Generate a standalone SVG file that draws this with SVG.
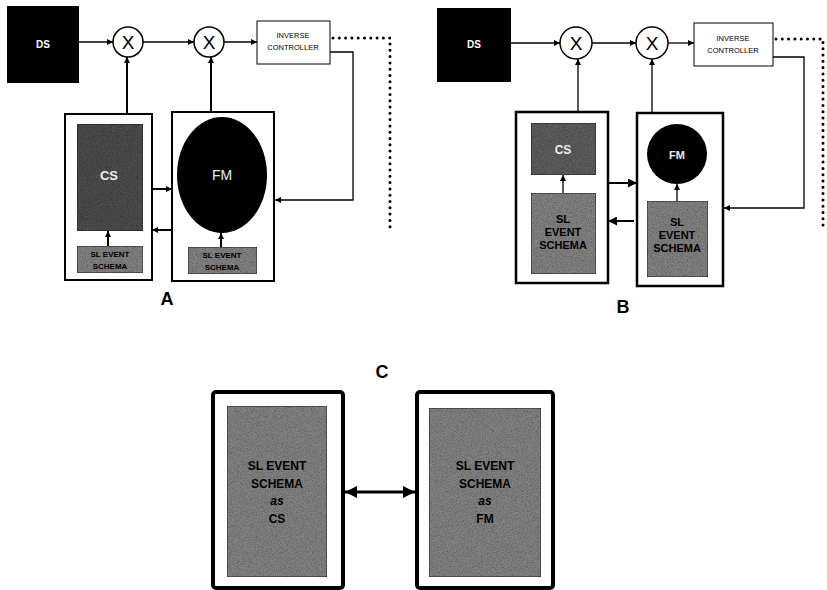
<svg xmlns="http://www.w3.org/2000/svg" width="827" height="590" viewBox="0 0 827 590">
  <defs>
    <marker id="ah" viewBox="0 0 10 10" refX="10" refY="5" markerWidth="6" markerHeight="6" orient="auto" markerUnits="userSpaceOnUse">
      <path d="M0,0 L10,5 L0,10 z" fill="#000"/>
    </marker>
    <marker id="ahm" viewBox="0 0 10 10" refX="10" refY="5" markerWidth="9" markerHeight="9" orient="auto" markerUnits="userSpaceOnUse">
      <path d="M0,0 L10,5 L0,10 z" fill="#000"/>
    </marker>
    <marker id="ahb" viewBox="0 0 10 10" refX="10" refY="5" markerWidth="12" markerHeight="12" orient="auto-start-reverse" markerUnits="userSpaceOnUse">
      <path d="M0,0 L10,5 L0,10 z" fill="#000"/>
    </marker>
    <!-- speckled print texture for the grey panels -->
    <filter id="grain" x="0" y="0" width="1" height="1">
      <feTurbulence type="fractalNoise" baseFrequency="1.2" numOctaves="1" seed="3" result="n"/>
      <feColorMatrix in="n" type="matrix" values="0 0 0 0 0  0 0 0 0 0  0 0 0 0 0  0 0 0 1.2 -0.45" result="d"/>
      <feComposite in="d" in2="SourceGraphic" operator="in" result="dm"/>
      <feMerge><feMergeNode in="SourceGraphic"/><feMergeNode in="dm"/></feMerge>
    </filter>
  </defs>
  <style>
    text { font-family: "Liberation Sans", Arial, sans-serif; text-anchor: middle; }
    .ds { fill: #000; }
    .dst { fill: #fff; font-weight: bold; font-size: 10px; }
    .mul { fill: #fff; stroke: #000; stroke-width: 1.5; }
    .x { font-size: 19px; fill: #000; }
    .ic { fill: #fff; stroke: #000; stroke-width: 1; }
    .ict { font-size: 7.5px; fill: #000; }
    .outer { fill: #fff; stroke: #000; stroke-width: 2; }
    .outerB { fill: #fff; stroke: #000; stroke-width: 2.5; }
    .outerC { fill: #fff; stroke: #000; stroke-width: 4; }
    .dark { fill: #4e4e4e; stroke: #222; stroke-width: 1; filter: url(#grain); }
    .mid { fill: #838383; stroke: #222; stroke-width: 1; filter: url(#grain); }
    .lab { font-size: 8px; font-weight: bold; fill: #000; }
    .labB { font-size: 11px; font-weight: bold; fill: #000; }
    .labC { font-size: 12px; font-weight: bold; fill: #000; }
    .wt { fill: #eee; font-weight: bold; }
    .big { font-size: 18px; font-weight: bold; fill: #000; }
    .ln { fill: none; stroke: #000; stroke-width: 1.3; }
    .lnT { fill: none; stroke: #000; stroke-width: 2; }
    .lnK { fill: none; stroke: #000; stroke-width: 3; }
    .dot { fill: none; stroke: #000; stroke-width: 3; stroke-dasharray: 0 6.3; stroke-linecap: round; }
  </style>

  <!-- ===== Panel A ===== -->
  <g id="a-ds"><rect class="ds" x="7" y="6" width="72" height="77"/><text class="dst" x="43" y="48">DS</text></g>
  <g id="a-mul1"><circle class="mul" cx="128" cy="42" r="15"/><text class="x" x="128" y="49">X</text></g>
  <g id="a-mul2"><circle class="mul" cx="209" cy="42" r="15"/><text class="x" x="209" y="49">X</text></g>
  <g id="a-ic"><rect class="ic" x="257" y="21" width="73" height="43"/><text class="ict" x="293" y="38">INVERSE</text><text class="ict" x="293" y="50">CONTROLLER</text></g>
  <g id="a-cs-unit">
    <rect class="outer" x="65" y="114" width="87" height="166"/>
    <rect class="dark" x="77" y="124" width="66" height="107"/>
    <text class="wt" x="109" y="180" font-size="13">CS</text>
    <rect class="mid" x="77" y="246" width="66" height="27"/>
    <text class="lab" x="110" y="257">SL EVENT</text><text class="lab" x="110" y="269">SCHEMA</text>
  </g>
  <g id="a-fm-unit">
    <rect class="outer" x="172" y="112" width="102" height="169"/>
    <ellipse cx="222" cy="175" rx="45" ry="58" fill="#000"/>
    <text x="222" y="180" font-size="14" fill="#eee">FM</text>
    <rect class="mid" x="188" y="247" width="69" height="27"/>
    <text class="lab" x="222" y="258">SL EVENT</text><text class="lab" x="222" y="270">SCHEMA</text>
  </g>
  <g id="a-label"><text class="big" x="167" y="305">A</text></g>

  <!-- ===== Panel B ===== -->
  <g id="b-ds"><rect class="ds" x="437" y="8" width="74" height="74"/><text class="dst" x="474" y="48">DS</text></g>
  <g id="b-mul1"><circle class="mul" cx="576" cy="43" r="16"/><text class="x" x="576" y="50">X</text></g>
  <g id="b-mul2"><circle class="mul" cx="652" cy="43" r="16"/><text class="x" x="652" y="50">X</text></g>
  <g id="b-ic"><rect class="ic" x="694" y="23" width="79" height="43"/><text class="ict" x="733" y="41">INVERSE</text><text class="ict" x="733" y="53">CONTROLLER</text></g>
  <g id="b-cs-unit">
    <rect class="outerB" x="516" y="112" width="92" height="171"/>
    <rect class="dark" x="531" y="123" width="65" height="52" style="fill:#5e5e5e"/>
    <text class="wt" x="563" y="154" font-size="12">CS</text>
    <rect class="mid" x="531" y="193" width="65" height="81"/>
    <text class="labB" x="563" y="223">SL</text><text class="labB" x="563" y="236">EVENT</text><text class="labB" x="563" y="249">SCHEMA</text>
  </g>
  <g id="b-fm-unit">
    <rect class="outerB" x="637" y="113" width="86" height="173"/>
    <circle cx="677" cy="154" r="30" fill="#000"/>
    <text x="677" y="159" font-size="11" class="wt">FM</text>
    <rect class="mid" x="647" y="201" width="61" height="76"/>
    <text class="labB" x="677" y="226">SL</text><text class="labB" x="677" y="239">EVENT</text><text class="labB" x="677" y="252">SCHEMA</text>
  </g>
  <g id="b-label"><text class="big" x="623" y="313">B</text></g>

  <!-- ===== Panel C ===== -->
  <g id="c-label"><text class="big" x="382" y="378">C</text></g>
  <g id="c-cs">
    <rect class="outerC" x="213" y="392" width="130" height="196" rx="3"/>
    <rect class="mid" x="227" y="406" width="100" height="171"/>
    <text class="labC" x="277" y="470">SL EVENT</text><text class="labC" x="277" y="488">SCHEMA</text>
    <text class="labC" x="277" y="505" font-style="italic">as</text><text class="labC" x="277" y="523">CS</text>
  </g>
  <g id="c-fm">
    <rect class="outerC" x="417" y="392" width="136" height="196" rx="3"/>
    <rect class="mid" x="429" y="408" width="112" height="169"/>
    <text class="labC" x="485" y="470">SL EVENT</text><text class="labC" x="485" y="488">SCHEMA</text>
    <text class="labC" x="485" y="505" font-style="italic">as</text><text class="labC" x="485" y="523">FM</text>
  </g>

  <!-- ===== Connectors ===== -->
  <g id="connectors">
    <!-- A -->
    <line class="ln" x1="79" y1="42" x2="113" y2="42" marker-end="url(#ah)"/>
    <line class="ln" x1="143" y1="42" x2="194" y2="42" marker-end="url(#ah)"/>
    <line class="ln" x1="224" y1="42" x2="257" y2="42" marker-end="url(#ah)"/>
    <line class="lnT" x1="127" y1="113" x2="127" y2="57" marker-end="url(#ah)"/>
    <line class="lnT" x1="211" y1="111" x2="211" y2="57" marker-end="url(#ah)"/>
    <polyline class="ln" points="330,52 353,52 353,200 275,200" marker-end="url(#ah)"/>
    <polyline class="dot" points="333,38 390,38 390,233"/>
    <line class="lnT" x1="152" y1="189" x2="172" y2="189" marker-end="url(#ah)"/>
    <line class="lnT" x1="172" y1="230" x2="152" y2="230" marker-end="url(#ah)"/>
    <line class="lnT" x1="108" y1="246" x2="108" y2="231" marker-end="url(#ah)"/>
    <line class="lnT" x1="221" y1="247" x2="221" y2="233" marker-end="url(#ah)"/>
    <!-- B -->
    <line class="ln" x1="511" y1="43" x2="560" y2="43" marker-end="url(#ah)"/>
    <line class="ln" x1="592" y1="43" x2="636" y2="43" marker-end="url(#ah)"/>
    <line class="ln" x1="668" y1="43" x2="694" y2="43" marker-end="url(#ah)"/>
    <line class="ln" x1="578" y1="111" x2="578" y2="59" marker-end="url(#ah)"/>
    <line class="ln" x1="652" y1="112" x2="652" y2="59" marker-end="url(#ah)"/>
    <polyline class="ln" points="773,57 804,57 804,208 724,208" marker-end="url(#ah)"/>
    <polyline class="dot" points="776,39 823,39 823,230"/>
    <line class="lnT" x1="608" y1="183" x2="637" y2="183" marker-end="url(#ahm)"/>
    <line class="lnT" x1="634" y1="221" x2="608" y2="221" marker-end="url(#ahm)"/>
    <line class="ln" x1="563" y1="193" x2="563" y2="175" marker-end="url(#ah)"/>
    <line class="ln" x1="677" y1="201" x2="677" y2="184" marker-end="url(#ah)"/>
    <!-- C -->
    <line class="lnK" x1="345" y1="492" x2="415" y2="492" marker-start="url(#ahb)" marker-end="url(#ahb)"/>
  </g>
</svg>
